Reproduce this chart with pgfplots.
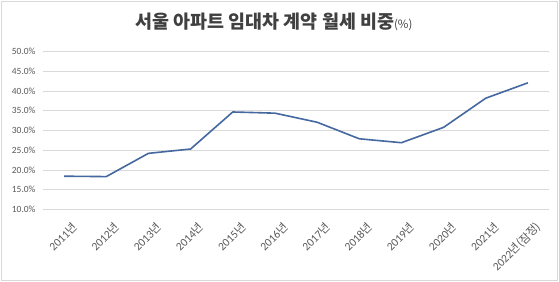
\documentclass[border=0pt]{standalone}
\usepackage{pgfplots}
\pgfplotsset{compat=1.18}
\usepackage{fontspec}
\setmainfont{Carlito}
\newfontfamily\kr{Noto Sans CJK KR}
\definecolor{linec}{RGB}{70,104,160}
\definecolor{txt}{RGB}{89,89,89}
\definecolor{ttl}{RGB}{64,64,64}
\definecolor{gridc}{RGB}{217,217,217}
\definecolor{framec}{RGB}{217,217,217}
\newcommand\yr[1]{#1{\kr 년}}
\begin{document}
\begin{tikzpicture}[x=1bp,y=1bp]
\path[use as bounding box, fill=white] (0,0) rectangle (559,281);
\draw[framec, line width=0.8bp] (1,1) rectangle (557.5,280);
\node[text=ttl, anchor=center] at (274,259) {\kr\fontsize{18.5}{20}\selectfont\bfseries 서울 아파트 임대차 계약 월세 비중{\mdseries\fontsize{11.5}{12}\selectfont(\%)}};
\begin{axis}[
  at={(43bp,71.7bp)}, anchor=south west,
  scale only axis, width=506bp, height=157.6bp,
  xmin=-0.5, xmax=11.5, ymin=10, ymax=50,
  ytick={10,15,...,50},
  xtick={0,...,11},
  xticklabels={\yr{2011},\yr{2012},\yr{2013},\yr{2014},\yr{2015},\yr{2016},\yr{2017},\yr{2018},\yr{2019},\yr{2020},\yr{2021},{2022{\kr 년(잠정)}}},
  yticklabel={\pgfmathprintnumber[fixed,fixed zerofill,precision=1]{\tick}\%},
  /pgf/number format/assume math mode=true,
  axis line style={draw=none},
  major tick length=0pt,
  ymajorgrids,
  major grid style={gridc, line width=0.8bp},
  yticklabel style={font=\fontsize{9.5}{10}\selectfont, text=txt, xshift=-4bp},
  xticklabel style={font=\fontsize{11.5}{12}\selectfont, text=txt, rotate=45, anchor=north east, inner sep=1bp, xshift=-2bp, yshift=-12bp},
  clip=false,
]
\addplot[linec, line width=1.6bp, line join=round] coordinates {
(0,18.4) (1,18.3) (2,24.2) (3,25.3) (4,34.7) (5,34.4) (6,32.1) (7,27.9) (8,26.9) (9,30.8) (10,38.2) (11,42.1)
};
\end{axis}
\end{tikzpicture}
\end{document}
